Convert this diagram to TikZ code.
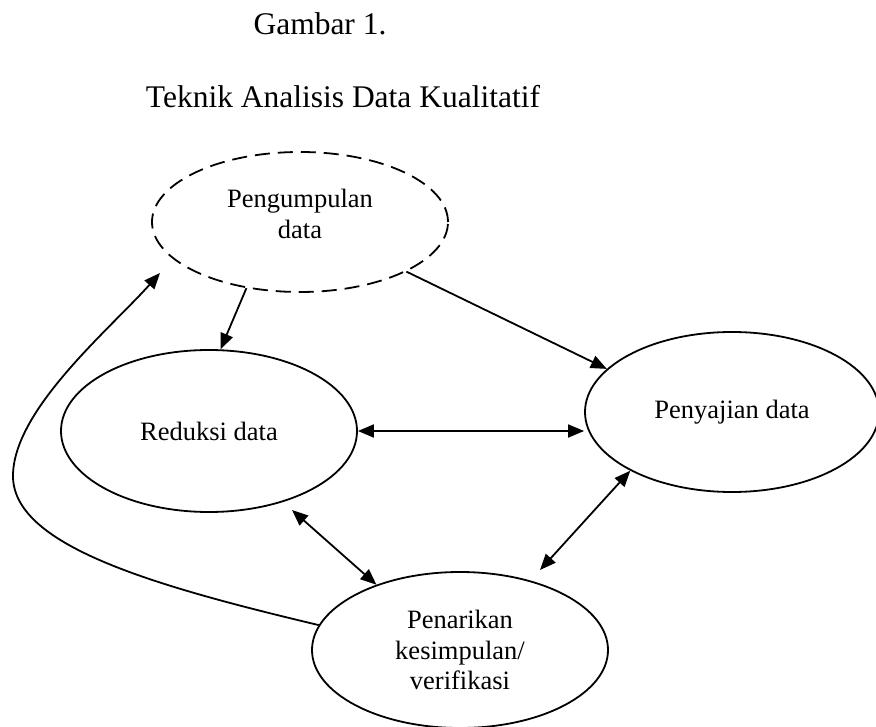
\documentclass[tikz,border=0pt]{standalone}
\usepackage{fontspec}
\setmainfont{Liberation Serif}
\usetikzlibrary{shapes.geometric,arrows.meta}
\begin{document}
\begin{tikzpicture}[x=1pt,y=-1pt,
  ell/.style={draw,ellipse,line width=1.8pt,inner sep=0pt},
  txt/.style={font=\fontsize{26.5}{30.5}\selectfont,align=center,inner sep=0pt},
  ttl/.style={font=\fontsize{31.5}{36}\selectfont,inner sep=0pt,anchor=base},
  arr/.style={line width=1.8pt,-{Triangle[length=16pt,width=13pt]}},
  darr/.style={line width=1.8pt,{Triangle[length=16pt,width=13pt]}-{Triangle[length=16pt,width=13pt]}}]
\useasboundingbox (0,0) rectangle (876,727);
% titles
\node[ttl] (t1) at (320,35) {Gambar 1.};
\node[ttl] (t2) at (343,108) {Teknik Analisis Data Kualitatif};
% ellipses
\node[ell,dash pattern=on 15pt off 8pt,minimum width=296pt,minimum height=140pt] (P) at (300,222) {};
\node[txt] (Pt) at (300,214) {Pengumpulan\\data};
\node[ell,minimum width=296pt,minimum height=162pt] (R) at (209,431) {};
\node[txt] (Rt) at (209,431) {Reduksi data};
\node[ell,minimum width=294pt,minimum height=160pt] (S) at (732,412) {};
\node[txt] (St) at (732,412) {Penyajian data};
\node[ell,minimum width=296pt,minimum height=156pt] (K) at (460,650) {};
\node[txt] (Kt) at (460,650) {Penarikan\\kesimpulan/\\verifikasi};
% free ends
\coordinate (ptip) at (160,273);
\coordinate (rk) at (292,510);
\coordinate (sk) at (540,570);
% connectors
\draw[arr] (P.-129) -- (R.82);
\draw[arr] (P.-25) -- (S.161.4);
\draw[darr] (R.east) -- (R.east -| S.west);
\draw[darr] (rk) -- (K.142);
\draw[darr] (sk) -- (S.-150);
\draw[arr] (K.170) .. controls (150,585) and (13,545) .. (13,476)
  .. controls (13,410) and (110,329) .. (ptip);
\end{tikzpicture}
\end{document}
